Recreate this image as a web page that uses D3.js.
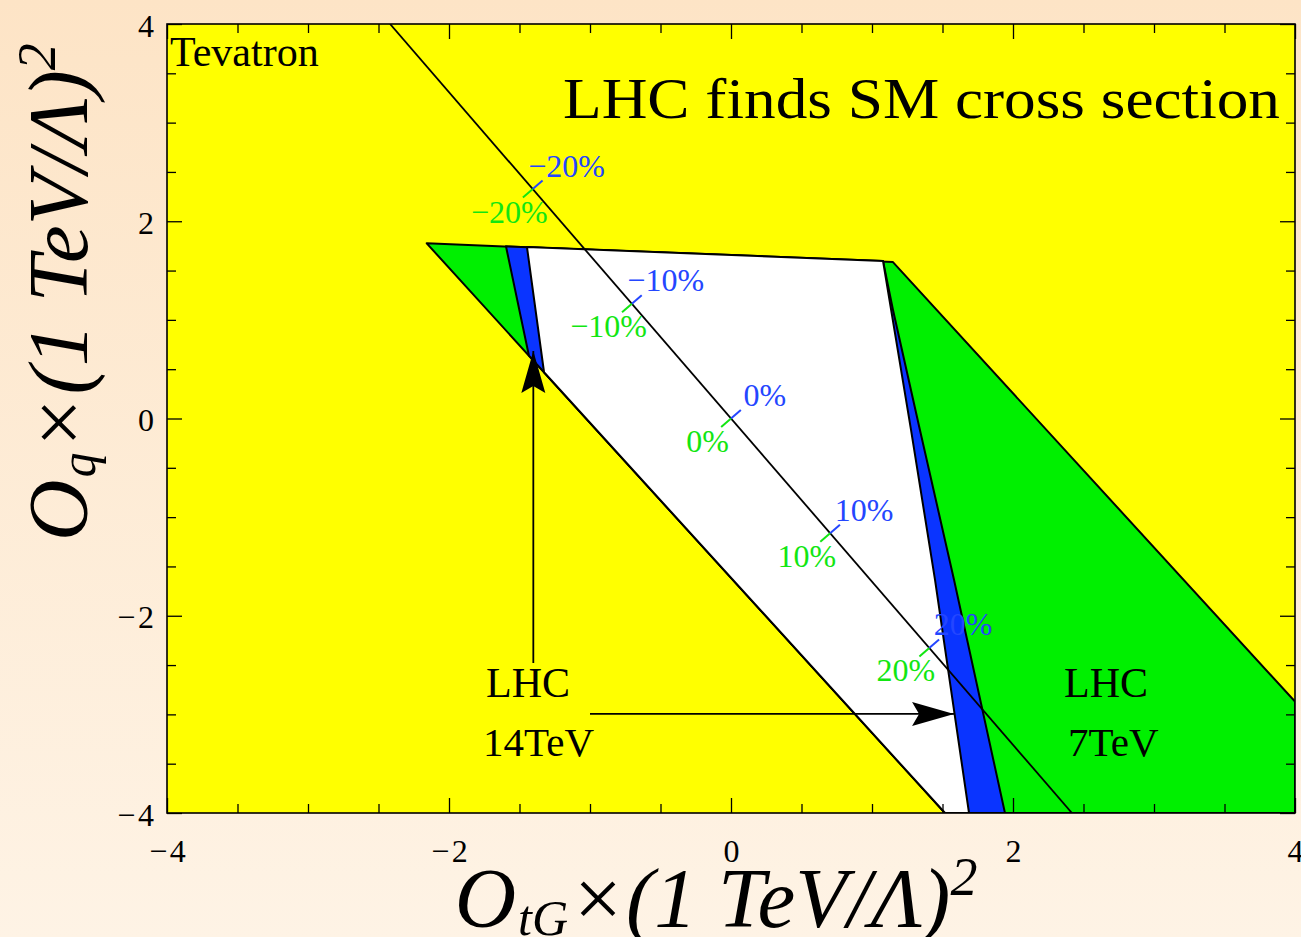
<!DOCTYPE html>
<html>
<head>
<meta charset="utf-8">
<script src="https://cdn.jsdelivr.net/npm/d3@7"></script>
<style>
  html, body { margin: 0; padding: 0; background: #fdecd6; }
  svg { display: block; }
</style>
</head>
<body>
<svg id="chart" width="1301" height="937"></svg>
<script>
// ---- data (O_tG, O_q) in units of (1 TeV / Lambda)^2 ----
const xTicksMajor = [-4, -2, 0, 2, 4];
const yTicksMajor = [-4, -2, 0, 2, 4];
const ticksMinor = [-3.5, -3, -2.5, -1.5, -1, -0.5, 0.5, 1, 1.5, 2.5, 3, 3.5];

// region allowed by LHC 7 TeV (green)
const lhc7Region = [[-2.158, 1.776], [1.147, 1.588], [4, -2.87], [4, -4], [1.518, -4]];
// region allowed by LHC 14 TeV including its uncertainty band (blue)
const lhc14Band = [[-1.596, 1.746], [1.078, 1.598], [1.149, 1.10], [1.340, -0.117],
                   [1.582, -1.637], [1.943, -4], [1.518, -4], [-1.433, 0.637]];
// central LHC 14 TeV region (white)
const lhc14Core = [[-1.447, 1.738], [1.078, 1.598], [1.277, -0.117], [1.447, -1.637],
                   [1.688, -4], [1.518, -4], [-1.326, 0.469]];

// SM cross-section line and deviation markers along it
const smLine = [[-2.418, 4], [2.418, -4]];
const smPercent = [-20, -10, 0, 10, 20];
const smMarkX = [-1.406, -0.703, 0, 0.703, 1.406];

// ---- layout ----
const W = 1301, H = 937;
const plot = { left: 167, right: 1295, top: 24, bottom: 813 };

const svg = d3.select("#chart");
const serif = "'Liberation Serif', 'Times New Roman', serif";

const x = d3.scaleLinear().domain([-4, 4]).range([plot.left, plot.right]);
const y = d3.scaleLinear().domain([-4, 4]).range([plot.bottom, plot.top]);

// page background gradient
const defs = svg.append("defs");
const grad = defs.append("linearGradient").attr("id", "bg").attr("x1", 0).attr("y1", 0).attr("x2", 0).attr("y2", 1);
grad.append("stop").attr("offset", "0%").attr("stop-color", "#fde4c6");
grad.append("stop").attr("offset", "100%").attr("stop-color", "#fef3e5");
svg.append("rect").attr("width", W).attr("height", H).attr("fill", "url(#bg)");

defs.append("clipPath").attr("id", "plotClip").append("rect")
  .attr("x", plot.left).attr("y", plot.top)
  .attr("width", plot.right - plot.left).attr("height", plot.bottom - plot.top);

// Tevatron-allowed area fills the whole frame
svg.append("rect")
  .attr("x", plot.left).attr("y", plot.top)
  .attr("width", plot.right - plot.left).attr("height", plot.bottom - plot.top)
  .attr("fill", "#ffff00");

const gPlot = svg.append("g").attr("clip-path", "url(#plotClip)");
const poly = d3.line().x(d => x(d[0])).y(d => y(d[1])).curve(d3.curveLinearClosed);

[[lhc7Region, "#00f000"], [lhc14Band, "#0a34ff"], [lhc14Core, "#ffffff"]].forEach(([pts, col]) => {
  gPlot.append("path").attr("d", poly(pts))
    .attr("fill", col).attr("stroke", "#000").attr("stroke-width", 2)
    .attr("stroke-linejoin", "round");
});

// SM line
gPlot.append("path").attr("d", d3.line().x(d => x(d[0])).y(d => y(d[1]))(smLine))
  .attr("fill", "none").attr("stroke", "#000").attr("stroke-width", 1.8);

// deviation markers
const lx0 = x(smLine[0][0]), ly0 = y(smLine[0][1]);
const lx1 = x(smLine[1][0]), ly1 = y(smLine[1][1]);
const len = Math.hypot(lx1 - lx0, ly1 - ly0);
const dir = [(lx1 - lx0) / len, (ly1 - ly0) / len];
const nrm = [dir[1], -dir[0]];
const smY = v => smLine[0][1] + (v - smLine[0][0]) * (smLine[1][1] - smLine[0][1]) / (smLine[1][0] - smLine[0][0]);
const fmtPct = v => (v < 0 ? "\u2212" + Math.abs(v) : String(v)) + "%";
const tickLen = 13;
const blue = "#2446ff", green = "#12e612";

smMarkX.forEach((mx, i) => {
  const px = x(mx), py = y(smY(mx));
  const bx = px + tickLen * nrm[0], by = py + tickLen * nrm[1];
  const gx = px - tickLen * nrm[0], gy = py - tickLen * nrm[1];
  svg.append("line").attr("x1", px).attr("y1", py).attr("x2", bx).attr("y2", by)
    .attr("stroke", blue).attr("stroke-width", 2);
  svg.append("line").attr("x1", px).attr("y1", py).attr("x2", gx).attr("y2", gy)
    .attr("stroke", green).attr("stroke-width", 2);
  svg.append("text").attr("x", bx + 24).attr("y", by - 4)
    .attr("text-anchor", "middle").attr("font-family", serif).attr("font-size", 32)
    .attr("fill", blue).text(fmtPct(smPercent[i]));
  svg.append("text").attr("x", gx - 13.5).attr("y", gy + 25)
    .attr("text-anchor", "middle").attr("font-family", serif).attr("font-size", 32)
    .attr("fill", green).text(fmtPct(smPercent[i]));
});

// arrows pointing from the LHC 14 TeV label to its band
const arrows = [
  { from: [-1.402, -2.478], to: [-1.402, 0.684] },
  { from: [-1.0, -2.995], to: [1.582, -2.995] }
];
arrows.forEach(a => {
  const x0 = x(a.from[0]), y0 = y(a.from[1]), x1 = x(a.to[0]), y1 = y(a.to[1]);
  const ang = Math.atan2(y1 - y0, x1 - x0) * 180 / Math.PI;
  svg.append("line").attr("x1", x0).attr("y1", y0).attr("x2", x1).attr("y2", y1)
    .attr("stroke", "#000").attr("stroke-width", 1.8);
  svg.append("path").attr("d", "M0,0 L-42,-12 L-35,0 L-42,12 Z")
    .attr("transform", `translate(${x1},${y1}) rotate(${ang})`)
    .attr("fill", "#000");
});

// region labels
const labels = [
  { text: "Tevatron", px: 170, py: 66, size: 42 },
  { text: "LHC", px: 486, py: 697, size: 42 },
  { text: "14TeV", px: 483, py: 756, size: 41 },
  { text: "LHC", px: 1064, py: 697, size: 42 },
  { text: "7TeV", px: 1068, py: 756, size: 41 }
];
labels.forEach(l => {
  svg.append("text").attr("x", l.px).attr("y", l.py)
    .attr("font-family", serif).attr("font-size", l.size).attr("fill", "#000").text(l.text);
});
svg.append("text").attr("x", 563).attr("y", 118)
  .attr("font-family", serif).attr("font-size", 57).attr("fill", "#000")
  .attr("textLength", 717).attr("lengthAdjust", "spacingAndGlyphs")
  .text("LHC finds SM cross section");

// axes: ticks point inward on all four sides
const fmtTick = v => (v < 0 ? "\u2212\u200a" + Math.abs(v) : String(v));
const tickFont = g => g.selectAll("text").attr("font-family", serif).attr("font-size", 32).attr("fill", "#000");
const clean = g => { g.select(".domain").remove(); g.selectAll("line").attr("stroke", "#000").attr("stroke-width", 1.3); };

svg.append("g").attr("transform", `translate(0,${plot.bottom})`)
  .call(d3.axisBottom(x).tickValues(xTicksMajor).tickSize(-15).tickPadding(26).tickFormat(fmtTick))
  .call(clean).call(tickFont);
svg.append("g").attr("transform", `translate(0,${plot.bottom})`)
  .call(d3.axisBottom(x).tickValues(ticksMinor).tickSize(-9).tickFormat("")).call(clean);
svg.append("g").attr("transform", `translate(0,${plot.top})`)
  .call(d3.axisTop(x).tickValues(xTicksMajor).tickSize(-15).tickFormat("")).call(clean);
svg.append("g").attr("transform", `translate(0,${plot.top})`)
  .call(d3.axisTop(x).tickValues(ticksMinor).tickSize(-9).tickFormat("")).call(clean);

const yl = svg.append("g").attr("transform", `translate(${plot.left},0)`)
  .call(d3.axisLeft(y).tickValues(yTicksMajor).tickSize(-15).tickPadding(13).tickFormat(fmtTick))
  .call(clean).call(tickFont);
yl.selectAll("text").attr("dy", "0.38em");
svg.append("g").attr("transform", `translate(${plot.left},0)`)
  .call(d3.axisLeft(y).tickValues(ticksMinor).tickSize(-9).tickFormat("")).call(clean);
svg.append("g").attr("transform", `translate(${plot.right},0)`)
  .call(d3.axisRight(y).tickValues(yTicksMajor).tickSize(-15).tickFormat("")).call(clean);
svg.append("g").attr("transform", `translate(${plot.right},0)`)
  .call(d3.axisRight(y).tickValues(ticksMinor).tickSize(-9).tickFormat("")).call(clean);

svg.append("rect")
  .attr("x", plot.left).attr("y", plot.top)
  .attr("width", plot.right - plot.left).attr("height", plot.bottom - plot.top)
  .attr("fill", "none").attr("stroke", "#000").attr("stroke-width", 1.6);

// axis titles
function axisTitle(sel, sub) {
  const t = sel.append("text").attr("text-anchor", "middle")
    .attr("font-family", serif).attr("font-size", 85).attr("fill", "#000");
  t.append("tspan").attr("font-style", "italic").text("O");
  t.append("tspan").attr("font-style", "italic").attr("font-size", 50).attr("dy", 8).attr("dx", 2).text(sub);
  t.append("tspan").attr("dy", -8).attr("dx", 6).text("\u00d7");
  t.append("tspan").attr("font-style", "italic").attr("dx", 4).text("(1 TeV/\u039b)");
  t.append("tspan").attr("font-style", "italic").attr("font-size", 54).attr("dy", -32).text("2");
  return t;
}
axisTitle(svg.append("g").attr("transform", "translate(716,927)"), "tG");
axisTitle(svg.append("g").attr("transform", "translate(87,292) rotate(-90)"), "q");
</script>
</body>
</html>
